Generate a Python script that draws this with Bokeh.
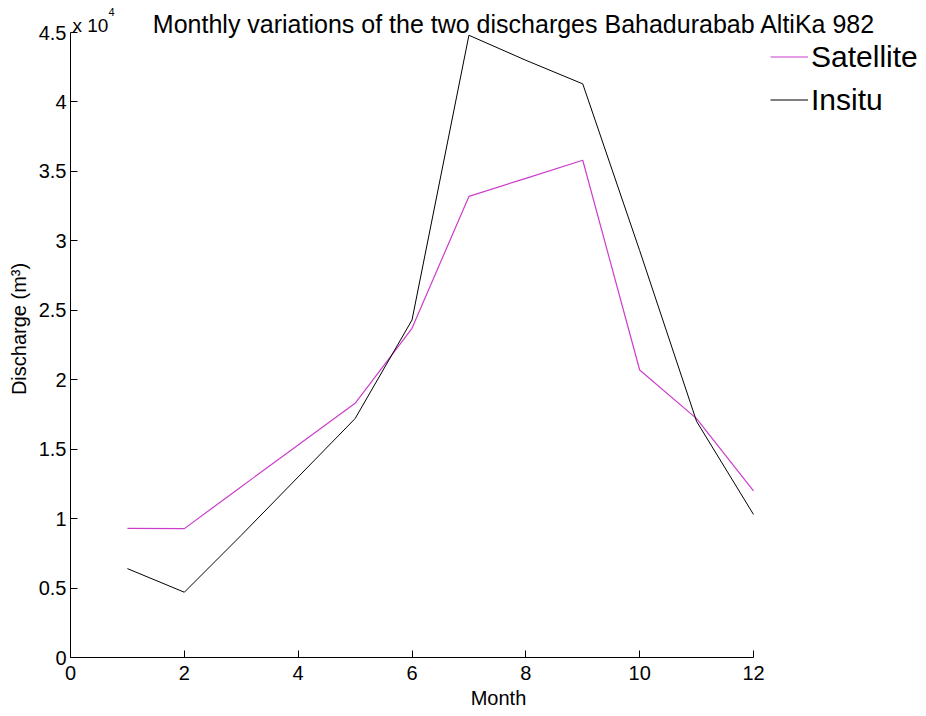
from bokeh.plotting import figure
from bokeh.models import (ColumnDataSource, Range1d, FixedTicker, CustomJSTickFormatter,
                          Legend, LegendItem, Label)
from bokeh.embed import file_html
from bokeh.resources import INLINE

# ---- data (discharge, m^3) ----
months = [1, 2, 3, 4, 5, 6, 7, 8, 9, 10, 11, 12]
satellite = [9300, 9280, 12300, 15300, 18300, 23700, 33200, 34500, 35800, 20700, 17200, 12000]
insitu = [6400, 4700, 8800, 13000, 17200, 24300, 44800, 43000, 41300, 29300, 17000, 10300]

x_ticks = [0, 2, 4, 6, 8, 10, 12]
y_ticks = [0, 5000, 10000, 15000, 20000, 25000, 30000, 35000, 40000, 45000]

title_text = "Monthly variations of the two discharges Bahadurabab AltiKa 982"
x_label = "Month"
y_label = "Discharge (m\u00b3)"
series_names = ["Satellite", "Insitu"]
exp_base = "x 10"
exp_power = "4"

FONT = "Liberation Sans"

# layout: axes box 70..753 (x) and 32..657 (y); frame extends to the top/right edges
W, H = 926, 716
AX_L, AX_R, AX_T, AX_B = 70, 753, 32, 657
x_lo, x_hi = 0, 12
y_lo, y_hi = 0, 45000
x_end = x_hi * (W - AX_L) / (AX_R - AX_L)
y_end = y_hi * AX_B / (AX_B - AX_T)

src = ColumnDataSource(dict(month=months, sat=satellite, ins=insitu))

p = figure(width=W, height=H, output_backend="svg", toolbar_location=None,
           x_range=Range1d(x_lo, x_end), y_range=Range1d(y_lo, y_end),
           min_border_left=AX_L, min_border_right=0, min_border_top=0,
           min_border_bottom=H - AX_B)
p.outline_line_color = None
p.grid.visible = False
p.background_fill_color = "white"
p.border_fill_color = "white"

r_sat = p.line("month", "sat", source=src, line_color="#cc3dcc", line_width=1.2)
r_ins = p.line("month", "ins", source=src, line_color="black", line_width=1)

for ax in (p.xaxis[0], p.yaxis[0]):
    ax.axis_line_color = "black"
    ax.major_tick_line_color = "black"
    ax.major_tick_in = 7
    ax.major_tick_out = 0
    ax.minor_tick_line_color = None
    ax.major_label_text_font = FONT
    ax.major_label_text_font_size = "20px"
    ax.major_label_text_color = "black"
    ax.axis_label_text_font = FONT
    ax.axis_label_text_font_size = "20px"
    ax.axis_label_text_font_style = "normal"
    ax.axis_label_text_color = "black"

p.xaxis[0].ticker = FixedTicker(ticks=x_ticks)
p.xaxis[0].bounds = (x_lo, x_hi)
p.xaxis[0].major_label_standoff = 8
p.xaxis[0].axis_label = x_label
p.xaxis[0].axis_label_standoff = 4

p.yaxis[0].ticker = FixedTicker(ticks=y_ticks)
p.yaxis[0].bounds = (y_lo, y_hi)
p.yaxis[0].formatter = CustomJSTickFormatter(code="return String(Math.round(tick/1000)/10);")
p.yaxis[0].major_label_standoff = 4
p.yaxis[0].axis_label = y_label
p.yaxis[0].axis_label_standoff = 6

legend = Legend(items=[LegendItem(label=series_names[0], renderers=[r_sat]),
                       LegendItem(label=series_names[1], renderers=[r_ins])],
                location=(700, 540), orientation="vertical",
                label_text_font=FONT, label_text_font_size="30px",
                label_text_color="black",
                glyph_width=38, glyph_height=35, label_height=35, label_standoff=3,
                spacing=8, padding=0, margin=0,
                border_line_alpha=0, background_fill_alpha=0)
p.add_layout(legend)

p.add_layout(Label(x=805, y=634, x_units="screen", y_units="screen", text=title_text,
                   text_align="right", text_baseline="alphabetic",
                   text_font=FONT, text_font_size="25px", text_color="black"))
p.add_layout(Label(x=2, y=632, x_units="screen", y_units="screen", text=exp_base,
                   text_align="left", text_baseline="alphabetic",
                   text_font=FONT, text_font_size="19px", text_color="black"))
p.add_layout(Label(x=38, y=646, x_units="screen", y_units="screen", text=exp_power,
                   text_align="left", text_baseline="alphabetic",
                   text_font=FONT, text_font_size="11px", text_color="black"))

open("out.html", "w").write(file_html(p, INLINE))
